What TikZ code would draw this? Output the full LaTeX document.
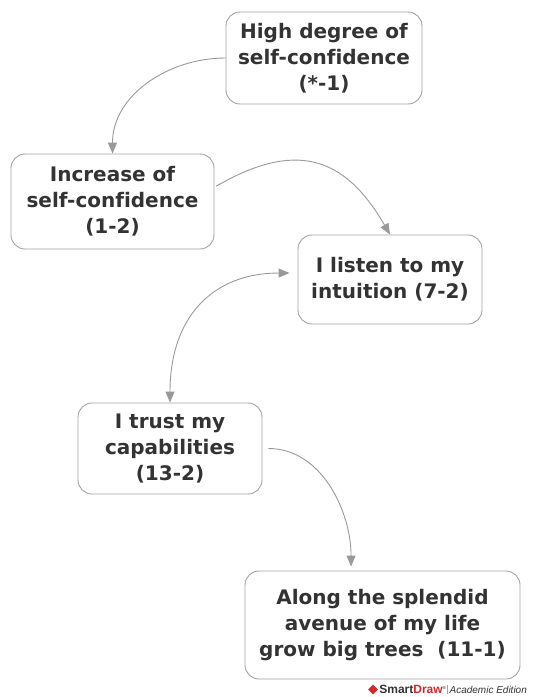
\documentclass[tikz,border=0pt]{standalone}
\usepackage{fontspec}
\setmainfont{DejaVu Sans}[Ligatures=NoCommon]
\newfontfamily\wmfont{Liberation Sans}
\usetikzlibrary{arrows.meta,positioning,shapes.geometric}
\definecolor{boxline}{HTML}{A3A3A3}
\definecolor{arrowline}{HTML}{999999}
\definecolor{boxtext}{HTML}{333333}
\definecolor{sdred}{HTML}{D9262B}
\tikzset{
    thought/.style={draw=boxline, line width=0.9pt, rounded corners=14pt, fill=white,
        align=center, inner sep=0pt, text=boxtext,
        font=\bfseries\fontsize{20}{26}\selectfont},
    link/.style={draw=arrowline, line width=0.9pt, -{Triangle[width=9pt,length=11pt]}},
}

\begin{document}
\begin{tikzpicture}[x=1pt, y=1pt]
    \useasboundingbox (0,0) rectangle (536,-697);

    \node[thought, minimum width=196pt, minimum height=92pt] (A) at (324,-58) {High degree of\\self-confidence\\(*-1)};
    \node[thought, minimum width=203pt, minimum height=95pt] (B) at (112.5,-201.5) {Increase of\\self-confidence\\(1-2)};
    \node[thought, minimum width=184pt, minimum height=89pt] (C) at (390,-279.5) {I listen to my\\intuition (7-2)};
    \node[thought, minimum width=184pt, minimum height=91pt] (D) at (170,-448.5) {I trust my\\capabilities\\(13-2)};
    \node[thought, minimum width=275pt, minimum height=108pt] (E) at (382.5,-625) {Along the splendid\\avenue of my life\\grow big trees~~(11-1)};

    \draw[link] (A.west) to[out=180, in=90] (B.north);
    \draw[link, looseness=1.3, shorten <=2pt] (B.8) to[out=30, in=120] (C.north);
    \draw[link, {Triangle[width=9pt,length=11pt]}-{Triangle[width=9pt,length=11pt]}, looseness=1.2, shorten >=8pt] (D.north) to[out=90, in=180] (C.176);
    \draw[link, shorten <=6pt, shorten >=4pt] (D.east) to[out=0, in=90] (E.120);

    % watermark
    \node[diamond, fill=sdred, minimum size=10pt, inner sep=0pt] (logo) at (373,-689.5) {};
    \node[right=1pt of logo, inner sep=0pt, font=\wmfont\fontsize{12}{12}\selectfont] (brand)
        {\textbf{\textcolor{boxtext}{Smart}\textcolor{sdred}{Draw}}\raisebox{4pt}{\fontsize{4}{4}\selectfont\textregistered}};
    \node[right=3.5pt of brand, inner sep=0pt, font=\wmfont\itshape\fontsize{10}{10}\selectfont, text=boxtext] (edition)
        {Academic Edition};
    \draw[boxline, line width=0.6pt] ([xshift=1.8pt]brand.north east) -- ([xshift=1.8pt]brand.south east);
\end{tikzpicture}
\end{document}
